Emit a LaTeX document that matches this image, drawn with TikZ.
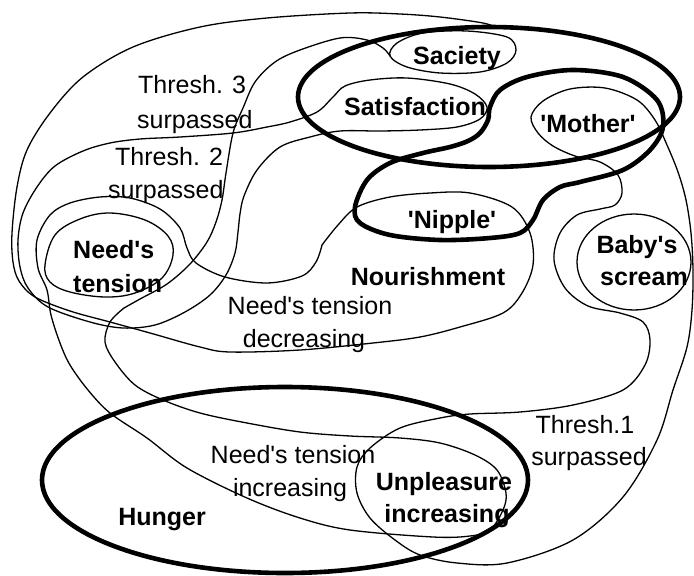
\documentclass[tikz,border=0pt]{standalone}
\usepackage{fontspec}
\setmainfont{Liberation Sans}
\newcommand\apo{\textquotesingle}
\tikzset{
  thinline/.style={line width=1.3pt, line join=round, line cap=round},
  thickline/.style={line width=4.6pt, line join=round},
  lbl/.style={font=\fontsize{25}{30}\selectfont, inner sep=0pt, anchor=base},
  blbl/.style={lbl, font=\fontsize{25}{30}\selectfont\bfseries},
  sm/.style={smooth, tension=0.55}
}
\begin{document}
\begin{tikzpicture}[x=1pt,y=-1pt]
\useasboundingbox (0,0) rectangle (694,576);

% outer boundary, running into the region of decreasing tension
\draw[thinline] plot[sm] coordinates {(497,28) (483,23) (440,17) (400,14) (350,13) (267,18) (200,27) (133,47) (83,77) (50,113) (27,150) (17,187) (12,233) (13,262) (19,281) (35,297) (70,311) (110,322) (150,333) (200,347) (230,352) (300,350) (373,343) (420,337) (460,327) (503,313) (522,293) (533,265) (530,233) (512,207) (470,193) (430,193) (390,197) (357,207) (338,225) (322,245)};
% continuation round the tension loop and the lens of increasing tension
\draw[thinline] plot[sm] coordinates {(322,245) (316,262) (302,276) (267,283) (225,277) (196,263) (187,248) (180,228) (160,209) (130,198) (100,197) (70,203) (50,215) (37,240) (38,268) (47,290) (51,315) (60,343) (70,365) (88,390) (110,413) (147,438) (187,468) (247,498) (300,518) (350,530) (433,537) (470,536) (490,530) (503,510) (506,493) (497,470) (475,455) (440,443) (400,438) (350,436) (300,432) (247,423) (200,413) (163,400) (135,385) (115,362) (105,342) (110,322) (124,308)};
% long tail up to the satiety loop
\draw[thinline] plot[sm] coordinates {(124,308) (140,299) (167,284) (190,264) (207,242) (216,222) (222,200) (226,173) (233,133) (243,108) (255,82) (275,62) (300,50) (340,38) (367,40) (383,48) (390,56)};
\draw[thinline] plot[smooth cycle, tension=0.55] coordinates {(390,56) (397,43) (423,33) (467,31) (507,37) (516,50) (507,63) (480,72) (440,73) (407,67)};

% threshold 3 region with the satisfaction loop
\draw[thinline] plot[smooth cycle, tension=0.55] coordinates {(345,86) (333,97) (317,112) (290,122) (267,127) (233,133) (180,137) (140,139) (110,143) (83,151) (55,166) (37,187) (23,213) (18,240) (20,267) (28,288) (48,307) (90,322) (123,328) (155,325) (185,312) (210,295) (226,275) (235,253) (238,232) (240,214) (244,196) (257,170) (280,147) (310,137) (340,131) (380,131) (420,130) (457,127) (480,119) (487,107) (475,94) (450,84) (407,78) (370,80)};

% need's tension
\draw[thinline] plot[smooth cycle, tension=0.6] coordinates {(45,265) (55,235) (80,219) (110,213) (145,220) (168,236) (173,255) (162,278) (135,293) (105,297) (70,292) (50,282)};

% threshold 1 region through mother and unpleasure
\draw[thinline] plot[smooth cycle, tension=0.55] coordinates {(531,117) (543,101) (570,89) (605,88) (637,100) (655,120) (667,145) (678,172) (686,200) (691,233) (693,270) (692,310) (687,347) (673,390) (657,440) (623,497) (573,540) (507,563) (457,563) (420,555) (395,540) (370,518) (357,493) (357,467) (370,448) (400,428) (440,418) (470,414) (520,412) (573,405) (623,390) (645,365) (650,340) (643,322) (620,313) (588,306) (565,288) (554,260) (560,233) (577,215) (600,209) (615,205) (622,193) (618,175) (600,162) (575,156) (553,146) (538,133)};

% baby's scream
\draw[thinline] (634,262) ellipse [x radius=57pt, y radius=48pt];

% thick outlines
\draw[thickline] (489,97) ellipse [x radius=191pt, y radius=70pt];
\draw[thickline] plot[smooth cycle, tension=0.55] coordinates {(355,207) (367,180) (390,163) (423,153) (450,147) (468,141) (480,133) (488,120) (490,107) (500,90) (527,77) (573,70) (623,77) (657,100) (663,127) (650,150) (623,170) (580,182) (560,187) (543,200) (533,220) (520,233) (490,238) (440,240) (390,235) (360,223)};
\draw[thickline] (285,480) ellipse [x radius=243pt, y radius=93pt];

% labels
\node[blbl] (sac) at (457,64) {Saciety};
\node[blbl] (sat) at (415,115) {Satisfaction};
\node[blbl] (mot) at (588,132) {\apo Mother\apo};
\node[blbl] (nip) at (452,228) {\apo Nipple\apo};
\node[blbl] (nou) at (428,285) {Nourishment};
\node[blbl] (bab1) at (637,253) {Baby\apo s};
\node[blbl] (bab2) at (644,285) {scream};
\node[blbl, anchor=base west] (nt1) at (73,258) {Need\apo s};
\node[blbl, anchor=base west] (nt2) at (73,292) {tension};
\node[lbl, anchor=base west] (t3a) at (138,93) {Thresh. 3};
\node[lbl, anchor=base west] (t3b) at (137,128) {surpassed};
\node[lbl, anchor=base west] (t2a) at (115,165) {Thresh. 2};
\node[lbl, anchor=base west] (t2b) at (108,198) {surpassed};
\node[lbl] (dec1) at (310,314) {Need\apo s tension};
\node[lbl] (dec2) at (304,347) {decreasing};
\node[lbl] (inc1) at (293,463) {Need\apo s tension};
\node[lbl] (inc2) at (290,496) {increasing};
\node[blbl] (unp1) at (444,490) {Unpleasure};
\node[blbl] (unp2) at (447,522) {increasing};
\node[lbl] (t1a) at (585,433) {Thresh.1};
\node[lbl] (t1b) at (589,465) {surpassed};
\node[blbl] (hun) at (162,525) {Hunger};
\end{tikzpicture}
\end{document}
